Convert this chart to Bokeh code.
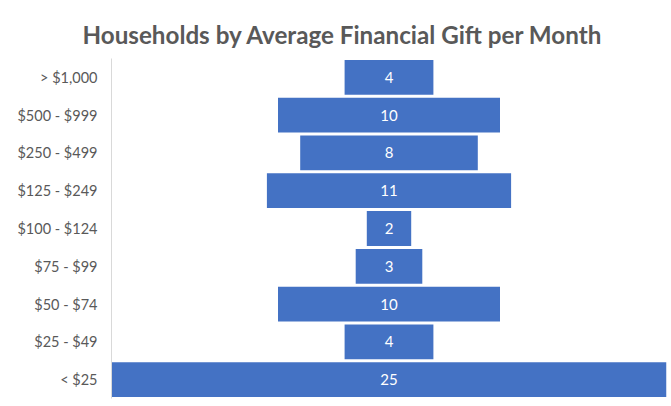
from bokeh.plotting import figure
from bokeh.models import ColumnDataSource, Range1d, FactorRange
from bokeh.core.properties import value
from bokeh.embed import file_html
from bokeh.resources import INLINE

categories = ["> $1,000", "$500 - $999", "$250 - $499", "$125 - $249", "$100 - $124",
              "$75 - $99", "$50 - $74", "$25 - $49", "< $25"]
households = [4, 10, 8, 11, 2, 3, 10, 4, 25]

FONT = "Lato"
BAR = "#4472C4"
GRAY = "#595959"

src = ColumnDataSource(dict(
    cat=categories,
    val=households,
    left=[-v / 2 for v in households],
    right=[v / 2 for v in households],
    lab=[str(v) for v in households],
))

p = figure(
    y_range=FactorRange(factors=list(reversed(categories)), range_padding=0),
    x_range=Range1d(-12.5, 12.5),
    frame_width=555, frame_height=340,
    min_border_left=111, min_border_right=5, min_border_top=58, min_border_bottom=8,
    output_backend="svg", toolbar_location=None,
    title="Households by Average Financial Gift per Month",
)
p.hbar(y="cat", left="left", right="right", height=0.92, source=src,
       fill_color=BAR, line_color=None)
p.text(x=0, y="cat", text="lab", source=src, text_color="white",
       text_font=value(FONT), text_font_size="15px",
       text_align="center", text_baseline="middle")

p.title.text_font = FONT
p.title.text_font_size = "24.2px"
p.title.text_font_style = "bold"
p.title.text_color = GRAY
p.title.align = "left"
p.title.offset = -29
p.title.standoff = 19

p.xaxis.visible = False
p.xgrid.visible = False
p.ygrid.visible = False
p.yaxis.axis_line_color = "#d9d9d9"
p.yaxis.major_tick_line_color = None
p.yaxis.minor_tick_line_color = None
p.yaxis.major_label_text_font = FONT
p.yaxis.major_label_text_font_size = "14.5px"
p.yaxis.major_label_text_color = GRAY
p.yaxis.major_label_standoff = 8
p.outline_line_color = None

open("out.html", "w").write(file_html(p, INLINE))
